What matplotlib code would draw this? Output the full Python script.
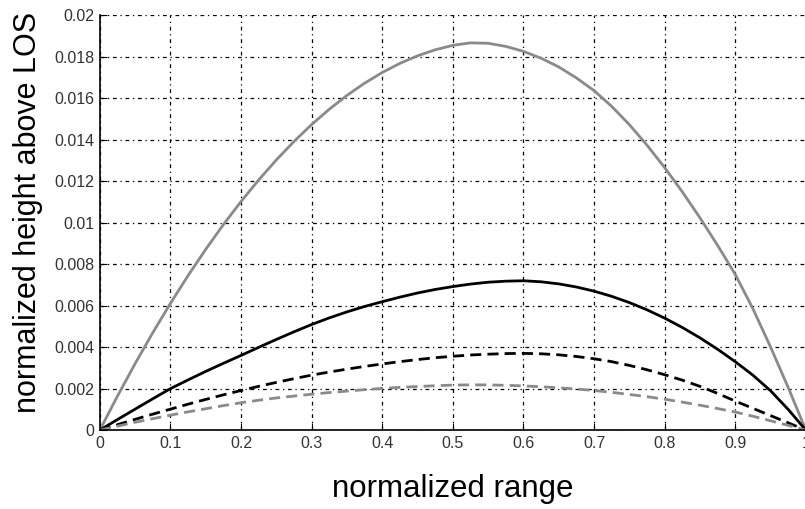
import numpy as np
import matplotlib.pyplot as plt
import matplotlib.ticker as ticker

plt.rcParams['font.family'] = ['Liberation Sans', 'DejaVu Sans']

# 横軸 (normalized range), 0.025 刻みで読み取り
x = [0.0, 0.025, 0.05, 0.075, 0.1, 0.125, 0.15, 0.175, 0.2, 0.225, 0.25,
     0.275, 0.3, 0.325, 0.35, 0.375, 0.4, 0.425, 0.45, 0.475, 0.5,
     0.525, 0.55, 0.575, 0.6, 0.625, 0.65, 0.675, 0.7, 0.725, 0.75,
     0.775, 0.8, 0.825, 0.85, 0.875, 0.9, 0.925, 0.95, 0.975, 1.0]

# 各曲線の値 (図から読み取り, 単位 1e-4)
gray_solid = [0.0, 16.4, 32.05, 46.95, 61.1, 74.5, 87.15, 99.05, 110.2, 120.6, 130.25,
              139.15, 147.3, 154.7, 161.35, 167.25, 172.4, 176.8, 180.45, 183.35, 185.5,
              186.7, 186.5, 185.0, 182.6, 179.3, 175.1, 169.8, 163.7, 156.1, 147.3,
              137.4, 126.6, 114.9, 102.4, 89.1, 75.1, 58.6, 40.1, 20.6, 0.0]
black_solid = [0.0, 5.1, 10.1, 15.1, 20.0, 24.2, 28.3, 32.2, 36.0, 39.9, 43.7,
               47.4, 50.9, 54.1, 57.0, 59.6, 61.9, 64.1, 66.1, 67.8, 69.2,
               70.4, 71.3, 71.8, 72.0, 71.5, 70.5, 69.0, 67.0, 64.5, 61.5,
               58.0, 54.0, 49.5, 44.5, 39.0, 33.0, 26.5, 19.0, 10.0, 0.0]
black_dashed = [0.0, 2.6, 5.2, 7.7, 10.1, 12.5, 14.8, 17.0, 19.1, 21.1, 23.0,
                24.8, 26.5, 28.0, 29.4, 30.7, 31.9, 33.0, 34.0, 34.9, 35.6,
                36.2, 36.6, 36.9, 37.0, 36.8, 36.3, 35.5, 34.4, 33.0, 31.2,
                29.1, 26.7, 24.1, 21.1, 17.7, 14.0, 10.5, 7.0, 3.5, 0.0]
gray_dashed = [0.0, 1.9, 3.8, 5.5, 7.2, 8.8, 10.3, 11.8, 13.2, 14.4, 15.5,
               16.4, 17.3, 18.1, 18.8, 19.5, 20.1, 20.6, 21.0, 21.4, 21.7,
               21.8, 21.8, 21.6, 21.3, 20.9, 20.4, 19.8, 19.1, 18.2, 17.2,
               16.1, 14.9, 13.5, 12.0, 10.4, 8.7, 6.7, 4.5, 2.3, 0.0]

xticks = [0, 0.1, 0.2, 0.3, 0.4, 0.5, 0.6, 0.7, 0.8, 0.9, 1]
xticklabels = ['0', '0.1', '0.2', '0.3', '0.4', '0.5', '0.6', '0.7', '0.8', '0.9', '1']
yticks = [0, 0.002, 0.004, 0.006, 0.008, 0.01, 0.012, 0.014, 0.016, 0.018, 0.02]
yticklabels = ['0', '0.002', '0.004', '0.006', '0.008', '0.01', '0.012', '0.014', '0.016', '0.018', '0.02']

fig = plt.figure(figsize=(8.05, 5.09), dpi=100)
ax = fig.add_axes([0.124, 0.155, 0.877, 0.815])

scale = 1e-4
ax.plot(x, np.array(gray_solid) * scale, color='#8a8a8a', lw=2.0)
ax.plot(x, np.array(black_solid) * scale, color='black', lw=2.0)
ax.plot(x, np.array(black_dashed) * scale, color='black', lw=2.0, dashes=(4, 2.2))
ax.plot(x, np.array(gray_dashed) * scale, color='#8a8a8a', lw=2.0, dashes=(4, 2.2))

ax.set_xlim(0, 1)
ax.set_ylim(0, 0.02)
ax.set_xticks(xticks)
ax.set_xticklabels(xticklabels)
ax.set_yticks(yticks)
ax.set_yticklabels(yticklabels)
ax.tick_params(direction='in', length=5, labelsize=11.5, pad=4, labelcolor='#333333')

# グリッド (点鎖線)
ax.grid(True, color='black', lw=0.9, dashes=(3, 3, 1, 3))
ax.spines['top'].set_visible(False)
ax.spines['right'].set_visible(False)
ax.spines['left'].set_linewidth(1.2)
ax.spines['bottom'].set_linewidth(1.2)

ax.set_xlabel('normalized range', fontsize=22.5, labelpad=17)
ax.set_ylabel('normalized height above LOS', fontsize=22)
ax.yaxis.set_label_coords(-0.080, 0.525)

plt.savefig('out.png', dpi=100)
